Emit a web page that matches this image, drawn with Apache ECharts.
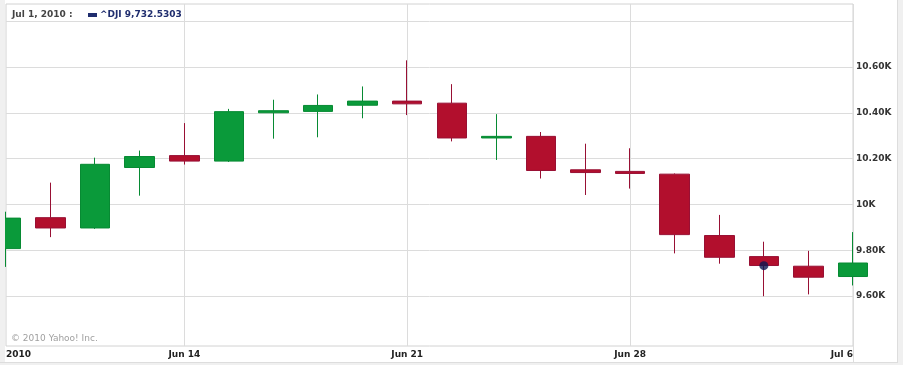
<!DOCTYPE html>
<html>
<head>
<meta charset="utf-8">
<script src="https://cdn.jsdelivr.net/npm/echarts@6/dist/echarts.min.js"></script>
<style>
html,body{margin:0;padding:0;background:#fff;}
#c{width:903px;height:365px;}
</style>
</head>
<body>
<div id="c"></div>
<script>
// Trading days
const categories = ['Jun 8','Jun 9','Jun 10','Jun 11','Jun 14','Jun 15','Jun 16','Jun 17','Jun 18',
  'Jun 21','Jun 22','Jun 23','Jun 24','Jun 25','Jun 28','Jun 29','Jun 30','Jul 1','Jul 2','Jul 6'];
const openVals  = [9807, 9942, 9897, 10161, 10213, 10189, 10400, 10406, 10433, 10451, 10442, 10290, 10297, 10151, 10144, 10132, 9864, 9772, 9730, 9685];
const closeVals = [9940, 9897, 10175, 10209, 10189, 10405, 10409, 10432, 10451, 10439, 10290, 10297, 10148, 10139, 10135, 9868, 9769, 9733, 9682, 9744];
const lowVals   = [9727, 9857, 9893, 10038, 10174, 10185, 10287, 10293, 10376, 10390, 10275, 10194, 10113, 10041, 10069, 9786, 9741, 9599, 9607, 9646];
const highVals  = [9968, 10095, 10204, 10235, 10355, 10417, 10457, 10480, 10515, 10629, 10525, 10394, 10316, 10265, 10245, 10135, 9954, 9837, 9797, 9879];

// Highlighted point
const markerCategory = 'Jul 1';
const markerValue = 9732.5303;

// Tick labels
const xTickIndex = [0, 4, 9, 14, 19];
const xTickLabels = ['2010', 'Jun 14', 'Jun 21', 'Jun 28', 'Jul 6'];
const yTickValues = [9600, 9800, 10000, 10200, 10400, 10600];
const yTickLabels = ['9.60K', '9.80K', '10K', '10.20K', '10.40K', '10.60K'];

const candleData = categories.map((c, i) => [openVals[i], closeVals[i], lowVals[i], highVals[i]]);

const chart = echarts.init(document.getElementById('c'), null, {renderer: 'canvas'});
const FONT = '"DejaVu Sans", Verdana, sans-serif';

chart.setOption({
  animation: false,
  backgroundColor: '#ffffff',
  grid: {
    left: 6, right: 50, top: 4, bottom: 19,
    show: true, borderColor: '#d2d2d2', borderWidth: 1, backgroundColor: '#ffffff'
  },
  xAxis: {
    type: 'category',
    data: categories,
    boundaryGap: false,
    axisLine: {show: false},
    axisTick: {show: false},
    axisLabel: {
      interval: 0,
      margin: 4,
      fontFamily: FONT, fontSize: 9, fontWeight: 'bold', color: '#222',
      alignMinLabel: 'left', alignMaxLabel: 'right',
      formatter: (v, idx) => {
        const k = xTickIndex.indexOf(idx);
        return k >= 0 ? xTickLabels[k] : '';
      }
    },
    splitLine: {
      show: true,
      interval: (idx) => xTickIndex.indexOf(idx) > 0,
      lineStyle: {color: '#dcdcdc', width: 1}
    }
  },
  yAxis: {
    type: 'value',
    position: 'right',
    min: 9381.6,
    max: 10875,
    minInterval: 200,
    maxInterval: 200,
    scale: true,
    axisLine: {show: false},
    axisTick: {show: false},
    axisLabel: {
      margin: 3,
      fontFamily: FONT, fontSize: 9, fontWeight: 'bold', color: '#333',
      showMinLabel: false, showMaxLabel: false,
      formatter: (v) => {
        const k = yTickValues.findIndex(t => Math.abs(t - v) < 1e-6);
        return k >= 0 ? yTickLabels[k] : '';
      }
    },
    splitLine: {
      show: true,
      showMinLine: false,
      showMaxLine: false,
      lineStyle: {color: ['rgba(0,0,0,0)', '#dcdcdc', '#dcdcdc', '#dcdcdc', '#dcdcdc', '#dcdcdc', '#dcdcdc', '#dcdcdc', '#dcdcdc'], width: 1}
    }
  },
  series: [
    {
      type: 'candlestick',
      data: candleData,
      barWidth: 30,
      clip: true,
      itemStyle: {
        color: '#0a9a3a',
        color0: '#b20f2d',
        borderColor: '#078a33',
        borderColor0: '#981034',
        borderWidth: 1
      }
    },
    {
      type: 'scatter',
      data: [[markerCategory, markerValue]],
      symbol: 'circle',
      symbolSize: 9,
      itemStyle: {color: '#0c1650'},
      z: 5
    }
  ],
  graphic: [
    {type: 'rect', shape: {x: 0, y: 0, width: 5, height: 365}, style: {fill: '#f0f0f0'}, z: 50, silent: true},
    {type: 'rect', shape: {x: 898, y: 0, width: 5, height: 365}, style: {fill: '#f0f0f0'}, z: 50, silent: true},
    {type: 'rect', shape: {x: 0, y: 363, width: 903, height: 2}, style: {fill: '#f0f0f0'}, z: 50, silent: true},
    {type: 'line', shape: {x1: 897.5, y1: 0, x2: 897.5, y2: 363}, style: {stroke: '#dddddd', lineWidth: 1}, z: 51, silent: true},
    {type: 'line', shape: {x1: 0, y1: 362.5, x2: 898, y2: 362.5}, style: {stroke: '#dddddd', lineWidth: 1}, z: 51, silent: true},
    {type: 'line', shape: {x1: 853.5, y1: 346, x2: 853.5, y2: 362}, style: {stroke: '#dddddd', lineWidth: 1}, z: 51, silent: true},
    {type: 'text', x: 12, y: 10, style: {text: 'Jul 1, 2010 :', fill: '#444', font: 'bold 9px ' + FONT}, z: 60},
    {type: 'rect', shape: {x: 88, y: 13, width: 9, height: 4}, style: {fill: '#1f2d6e'}, z: 60},
    {type: 'text', x: 100, y: 10, style: {text: '^DJI 9,732.5303', fill: '#1f2d6e', font: 'bold 9px ' + FONT}, z: 60},
    {type: 'text', x: 11, y: 334, style: {text: '\u00a9 2010 Yahoo! Inc.', fill: '#a0a0a0', font: '9px ' + FONT}, z: 60}
  ]
});
</script>
</body>
</html>
